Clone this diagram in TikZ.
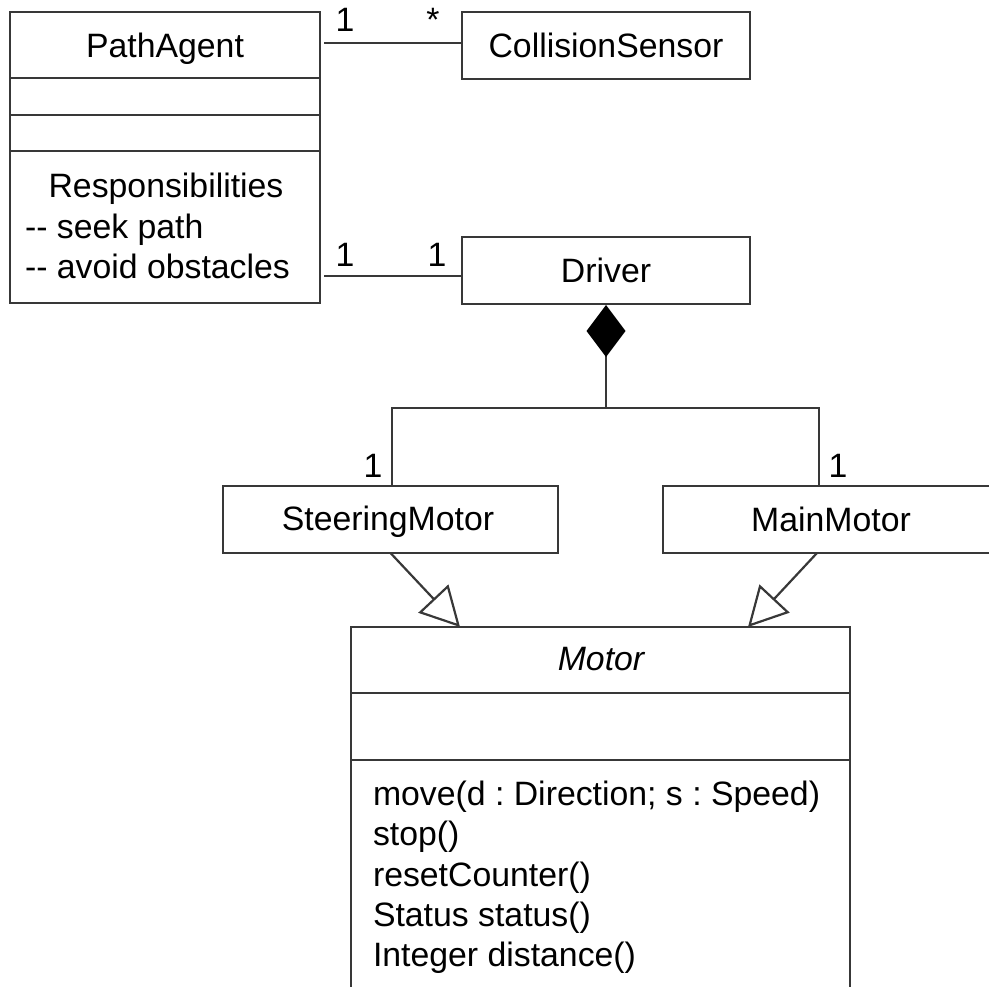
\documentclass[tikz,border=0pt]{standalone}
\usepackage{fontspec}
\newfontfamily\umlfont{Liberation Sans}
\usetikzlibrary{arrows.meta}
\definecolor{linegray}{gray}{0.22}
\frenchspacing
\begin{document}
\begin{tikzpicture}[x=1pt,y=-1pt,
  line width=2.2pt,
  umlbox/.style={draw=linegray, rectangle, inner sep=0pt, outer sep=0pt, anchor=north west},
  txt/.style={inner sep=0pt, outer sep=0pt, anchor=base, font=\umlfont\frenchspacing\fontsize{33.8}{40}\selectfont},
  ltxt/.style={txt, anchor=base west},
  assoc/.style={draw=linegray},
  gen/.style={draw=linegray, -{Triangle[open, length=39pt, width=41pt, fill=white]}},
  comp/.style={draw=linegray, {Diamond[length=52pt, width=39pt, fill=black, color=black]}-}
]
\useasboundingbox (0,0) rectangle (989,987);
\clip (0,0) rectangle (989,987);

% boxes
\node[umlbox, minimum width=310pt, minimum height=291pt] (PA) at (10,12) {};
\node[umlbox, minimum width=288pt, minimum height=67pt] (CS) at (462,12) {};
\node[umlbox, minimum width=288pt, minimum height=67pt] (DR) at (462,237) {};
\node[umlbox, minimum width=335pt, minimum height=67pt] (SM) at (223,486) {};
\node[umlbox, minimum width=336pt, minimum height=67pt] (MM) at (663,486) {};
\node[umlbox, minimum width=499pt, minimum height=420pt] (MO) at (351,627) {};

% compartments
\draw[linegray] (PA.west |- 0,78) -- (PA.east |- 0,78);
\draw[linegray] (PA.west |- 0,115) -- (PA.east |- 0,115);
\draw[linegray] (PA.west |- 0,151) -- (PA.east |- 0,151);
\draw[linegray] (MO.west |- 0,693) -- (MO.east |- 0,693);
\draw[linegray] (MO.west |- 0,760) -- (MO.east |- 0,760);

% texts
\node[txt] (tPA) at (165,58) {PathAgent};
\node[txt] (tCS) at (606,58) {CollisionSensor};
\node[txt] (tDR) at (606,283) {Driver};
\node[txt] (tResp) at (166,198) {Responsibilities};
\node[ltxt] (tR1) at (25,239) {-- seek path};
\node[ltxt] (tR2) at (25,279) {-- avoid obstacles};
\node[txt] (tSM) at (388,530) {SteeringMotor};
\node[txt] (tMM) at (831,531) {MainMotor};
\node[txt, font=\umlfont\itshape\fontsize{33.8}{40}\selectfont] (tMO) at (601,670) {Motor};
\node[ltxt] (m1) at (373,805) {move(d : Direction; s : Speed)};
\node[ltxt] (m2) at (373,845) {stop()};
\node[ltxt] (m3) at (373,886) {resetCounter()};
\node[ltxt] (m4) at (373,926) {Status status()};
\node[ltxt] (m5) at (373,966) {Integer distance()};

% multiplicities
\node[txt] (l1) at (345,32) {1};
\node[txt] (l2) at (433,32) {*};
\node[txt] (l3) at (345,267) {1};
\node[txt] (l4) at (437,267) {1};
\node[txt] (l5) at (373,477) {1};
\node[txt] (l6) at (838,477) {1};

% associations
\draw[assoc] ([xshift=4pt]PA.east |- 0,43) -- (CS.west |- 0,43);
\draw[assoc] ([xshift=4pt]PA.east |- 0,276) -- (DR.west |- 0,276);

% composition
\coordinate (J) at (DR.south |- 0,408);
\draw[comp] ([yshift=-1pt]DR.south) -- (J);
\draw[linegray] (J) -| ([xshift=1.5pt]SM.north);
\draw[linegray] (J) -| ([xshift=-12pt]MM.north);

% generalisations
\draw[gen] (SM.south) -- ([xshift=109pt]MO.north west);
\draw[gen] ([xshift=-14pt]MM.south) -- ([xshift=397pt]MO.north west);
\end{tikzpicture}
\end{document}
